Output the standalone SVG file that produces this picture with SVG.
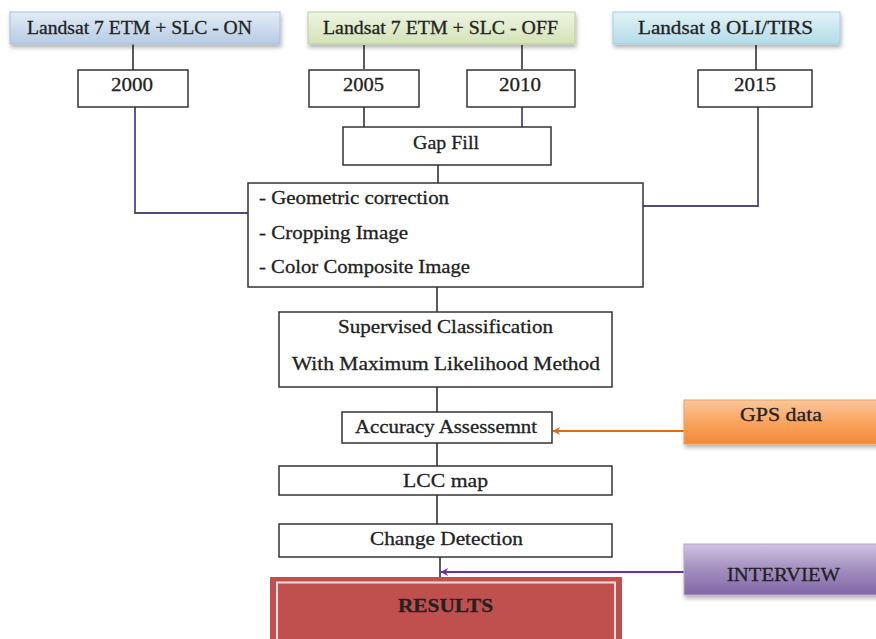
<svg xmlns="http://www.w3.org/2000/svg" width="876" height="639" viewBox="0 0 876 639">
<defs>
<linearGradient id="gBlue" x1="0" y1="0" x2="0" y2="1"><stop offset="0" stop-color="#e4ecf6"/><stop offset="1" stop-color="#b6cbe4"/></linearGradient>
<linearGradient id="gGreen" x1="0" y1="0" x2="0" y2="1"><stop offset="0" stop-color="#eef4e2"/><stop offset="1" stop-color="#d3e2b6"/></linearGradient>
<linearGradient id="gCyan" x1="0" y1="0" x2="0" y2="1"><stop offset="0" stop-color="#e2f2f7"/><stop offset="1" stop-color="#b4dce8"/></linearGradient>
<linearGradient id="gOrange" x1="0" y1="0" x2="0" y2="1"><stop offset="0" stop-color="#fbc79b"/><stop offset="0.5" stop-color="#f9a560"/><stop offset="1" stop-color="#f38a35"/></linearGradient>
<linearGradient id="gPurple" x1="0" y1="0" x2="0" y2="1"><stop offset="0" stop-color="#cfc3df"/><stop offset="0.5" stop-color="#a28ec0"/><stop offset="1" stop-color="#8166a6"/></linearGradient>
<filter id="sh" x="-5%" y="-20%" width="115%" height="160%"><feDropShadow dx="1" dy="3" stdDeviation="2" flood-color="#000" flood-opacity="0.3"/></filter>
<marker id="arrO" viewBox="0 0 10 10" refX="9" refY="5" markerWidth="9" markerHeight="8" markerUnits="userSpaceOnUse" orient="auto"><path d="M0,0 L10,5 L0,10 L3,5 Z" fill="#e46c0a"/></marker>
<marker id="arrP" viewBox="0 0 10 10" refX="9" refY="5" markerWidth="9" markerHeight="8" markerUnits="userSpaceOnUse" orient="auto"><path d="M0,0 L10,5 L0,10 L3,5 Z" fill="#7030a0"/></marker>
</defs>
<style>
text{font-family:"Liberation Serif","DejaVu Serif",serif;font-size:19.5px;fill:#222;stroke:#222;stroke-width:0.3;}
.c{text-anchor:middle;}
.box{fill:#fff;stroke:#333;stroke-width:1.5;}
.ln{stroke:#333;stroke-width:1.6;fill:none;}
.lp{stroke:#54497e;stroke-width:1.8;fill:none;}
.top{stroke:#a6bfd9;stroke-width:1;}
</style>
<rect width="876" height="639" fill="#fff"/>
<g id="connectors">
<line class="ln" x1="133" y1="43" x2="133" y2="70"/>
<polyline class="lp" points="135,107 135,213 248,213"/>
<line class="ln" x1="364" y1="45" x2="364" y2="69"/>
<line class="ln" x1="364" y1="107" x2="364" y2="127"/>
<line class="ln" x1="522" y1="45" x2="522" y2="69"/>
<line class="lp" x1="522" y1="107" x2="522" y2="129"/>
<line class="ln" x1="756" y1="45" x2="756" y2="70"/>
<polyline class="lp" points="758,107 758,206 643,206"/>
<line class="ln" x1="438" y1="165" x2="438" y2="183"/>
<line class="ln" x1="437" y1="287" x2="437" y2="312"/>
<line class="ln" x1="437" y1="387" x2="437" y2="412"/>
<line class="ln" x1="437" y1="443" x2="437" y2="466"/>
<line class="ln" x1="437" y1="495" x2="437" y2="524"/>
<line class="ln" x1="440" y1="557" x2="440" y2="583"/>
<line x1="684" y1="431" x2="553" y2="431" stroke="#e46c0a" stroke-width="2" marker-end="url(#arrO)"/>
<line x1="684" y1="572" x2="441" y2="572" stroke="#7030a0" stroke-width="2" marker-end="url(#arrP)"/>
</g>
<g id="landsat7on"><rect x="10" y="12" width="270" height="32" fill="url(#gBlue)" class="top" filter="url(#sh)"/><text x="27" y="34" textLength="225" lengthAdjust="spacingAndGlyphs">Landsat 7 ETM + SLC - ON</text></g>
<g id="landsat7off"><rect x="308" y="12" width="267" height="32" fill="url(#gGreen)" stroke="#b9cf95" stroke-width="1" filter="url(#sh)"/><text x="323" y="34" textLength="235" lengthAdjust="spacingAndGlyphs">Landsat 7 ETM + SLC - OFF</text></g>
<g id="landsat8"><rect x="613" y="12" width="227" height="32" fill="url(#gCyan)" stroke="#9fd0df" stroke-width="1" filter="url(#sh)"/><text x="638" y="34" textLength="175" lengthAdjust="spacingAndGlyphs">Landsat 8 OLI/TIRS</text></g>
<g id="y2000"><rect class="box" x="78" y="70" width="110" height="37"/><text x="111" y="91" textLength="42" lengthAdjust="spacingAndGlyphs">2000</text></g>
<g id="y2005"><rect class="box" x="309" y="70" width="110" height="37"/><text x="343" y="91" textLength="41" lengthAdjust="spacingAndGlyphs">2005</text></g>
<g id="y2010"><rect class="box" x="467" y="70" width="108" height="37"/><text x="499" y="91" textLength="42" lengthAdjust="spacingAndGlyphs">2010</text></g>
<g id="y2015"><rect class="box" x="698" y="70" width="114" height="37"/><text x="734" y="91" textLength="42" lengthAdjust="spacingAndGlyphs">2015</text></g>
<g id="gapfill"><rect class="box" x="343" y="127" width="208" height="38"/><text x="413" y="149" textLength="66" lengthAdjust="spacingAndGlyphs">Gap Fill</text></g>
<g id="preprocess"><rect class="box" x="248" y="183" width="395" height="104"/>
<text x="259" y="204" textLength="190" lengthAdjust="spacingAndGlyphs">- Geometric correction</text>
<text x="259" y="239" textLength="149" lengthAdjust="spacingAndGlyphs">- Cropping Image</text>
<text x="259" y="273" textLength="211" lengthAdjust="spacingAndGlyphs">- Color Composite Image</text></g>
<g id="supervised"><rect class="box" x="279" y="312" width="333" height="75"/>
<text x="338" y="333" textLength="215" lengthAdjust="spacingAndGlyphs">Supervised Classification</text>
<text x="292" y="370" textLength="308" lengthAdjust="spacingAndGlyphs">With Maximum Likelihood Method</text></g>
<g id="accuracy"><rect class="box" x="342" y="412" width="210" height="31"/><text x="355" y="433" textLength="182" lengthAdjust="spacingAndGlyphs">Accuracy Assessemnt</text></g>
<g id="gps"><rect x="684" y="400" width="196" height="44" fill="url(#gOrange)" stroke="#f0a060" stroke-width="1" filter="url(#sh)"/><text x="740" y="421" textLength="82" lengthAdjust="spacingAndGlyphs">GPS data</text></g>
<g id="lcc"><rect class="box" x="279" y="466" width="333" height="29"/><text x="403" y="487" textLength="85" lengthAdjust="spacingAndGlyphs">LCC map</text></g>
<g id="change"><rect class="box" x="279" y="524" width="333" height="33"/><text x="370" y="545" textLength="153" lengthAdjust="spacingAndGlyphs">Change Detection</text></g>
<g id="interview"><rect x="684" y="544" width="196" height="51" fill="url(#gPurple)" stroke="#b8a8d0" stroke-width="1" filter="url(#sh)"/><text x="727" y="581" textLength="113" lengthAdjust="spacingAndGlyphs" font-size="18">INTERVIEW</text></g>
<g id="results"><rect x="270" y="577" width="352" height="66" fill="#c0504d"/><rect x="277" y="582.5" width="338" height="60" fill="none" stroke="#f2dcdb" stroke-width="2"/><text x="398" y="612" textLength="95" lengthAdjust="spacingAndGlyphs" font-weight="bold" font-size="19">RESULTS</text></g>
</svg>
